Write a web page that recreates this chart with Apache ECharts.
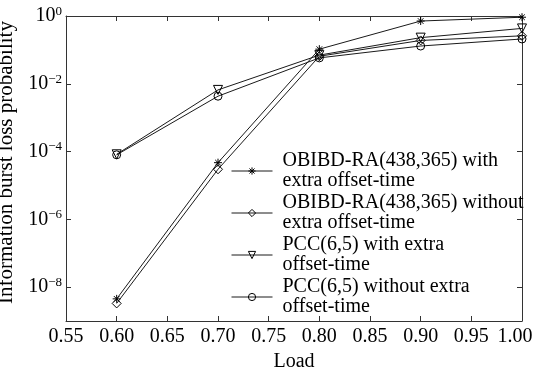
<!DOCTYPE html>
<html><head><meta charset="utf-8">
<script src="https://cdn.jsdelivr.net/npm/echarts@6/dist/echarts.min.js"></script>
<style>html,body{margin:0;padding:0;background:#fff}#c{width:534px;height:367px}</style>
</head><body><div id="c"></div>
<script>
const loads = [0.6, 0.7, 0.8, 0.9, 1.0];
const obibdWith = [4.5e-9, 4.7e-5, 0.105, 0.71, 0.92];
const obibdWithout = [3.3e-9, 3.0e-5, 0.065, 0.19, 0.26];
const pccWith = [8.3e-5, 6.6e-3, 0.07, 0.23, 0.43];
const pccWithout = [8.0e-5, 4.3e-3, 0.058, 0.13, 0.21];
const seriesNames = [
  'OBIBD-RA(438,365) with\nextra offset-time',
  'OBIBD-RA(438,365) without\nextra offset-time',
  'PCC(6,5) with extra\noffset-time',
  'PCC(6,5) without extra\noffset-time'
];
const yTickValues = [1e-8, 1e-6, 1e-4, 1e-2, 1];
const xTickLabels = ['0.55','0.60','0.65','0.70','0.75','0.80','0.85','0.90','0.95','1.00'];

const FONT = "'Liberation Serif','Times New Roman',serif";
const chart = echarts.init(document.getElementById('c'), null, {renderer: 'canvas'});
const pair = arr => loads.map((x, i) => [x, arr[i]]);
const star = 'path://M0,-1L0,1M-1,0L1,0M-0.7,-0.7L0.7,0.7M-0.7,0.7L0.7,-0.7';
const triDown = 'path://M0,0L2,0L1,1.75Z';
const mk = (name, data, symbol, size) => ({
  name, type: 'line', data: pair(data), symbol, symbolSize: size,
  lineStyle: {color: '#1a1a1a', width: 1},
  itemStyle: {color: 'none', borderColor: '#000', borderWidth: 1},
  emphasis: {disabled: true}, animation: false
});
function yLabel(v) {
  const e = Math.round(Math.log10(v));
  const s = String(e).replace('-', '−');
  return '{a|10}{b|' + s + '}';
}
function xLabel(v) {
  const i = Math.round((v - 0.55) / 0.05);
  const t = xTickLabels[i] || '';
  return i === xTickLabels.length - 1 ? '{r|' + t + '}' : t;
}
const axisBase = {
  axisLine: {lineStyle: {color: '#333', width: 1}},
  axisTick: {inside: true, length: 5, lineStyle: {color: '#333'}},
  splitLine: {show: false}
};
const xCommon = Object.assign({}, axisBase, {type: 'value', min: 0.55, max: 1.0, interval: 0.05});
const yCommon = Object.assign({}, axisBase, {type: 'log', logBase: 10, min: 1e-9, max: 1});
chart.setOption({
  animation: false,
  backgroundColor: '#fff',
  grid: {left: 66, right: 12, top: 16, bottom: 46, containLabel: false, outerBoundsMode: 'none'},
  xAxis: [
    Object.assign({}, xCommon, {
      position: 'bottom',
      name: 'Load', nameLocation: 'middle', nameGap: 28,
      nameTextStyle: {fontFamily: FONT, fontSize: 20, color: '#000'},
      axisLabel: {fontFamily: FONT, fontSize: 20, color: '#000', margin: 6, hideOverlap: false,
        showMinLabel: true, showMaxLabel: true, formatter: xLabel,
        rich: {r: {fontFamily: FONT, fontSize: 20, color: '#000', padding: [0, 14, 0, 0]}}}
    }),
    Object.assign({}, xCommon, {position: 'top', axisLabel: {show: false}})
  ],
  yAxis: [
    Object.assign({}, yCommon, {
      position: 'left',
      name: 'Information burst loss probability', nameLocation: 'middle', nameGap: 47,
      nameTextStyle: {fontFamily: FONT, fontSize: 21, color: '#000', padding: [0, 0, 0, 12]},
      axisTick: {inside: true, length: 5, lineStyle: {color: '#333'}, customValues: yTickValues},
      axisLabel: {customValues: yTickValues, margin: 4, formatter: yLabel,
        rich: {
          a: {fontFamily: FONT, fontSize: 20, color: '#000', lineHeight: 22},
          b: {fontFamily: FONT, fontSize: 13, color: '#000', verticalAlign: 'top', lineHeight: 22, padding: [0, 0, 8, 0]}
        }}
    }),
    Object.assign({}, yCommon, {
      position: 'right',
      axisTick: {inside: true, length: 5, lineStyle: {color: '#333'}, customValues: yTickValues},
      axisLabel: {show: false, customValues: yTickValues}
    })
  ],
  legend: {
    orient: 'vertical', left: 231, top: 151, padding: 0, itemGap: 2,
    itemWidth: 41, itemHeight: 9,
    lineStyle: {width: 1, color: '#1a1a1a'},
    itemStyle: {color: 'none', borderColor: '#000', borderWidth: 1},
    textStyle: {fontFamily: FONT, fontSize: 20, color: '#000', lineHeight: 20, padding: [0, 0, 0, 5]},
    data: seriesNames
  },
  series: [
    mk(seriesNames[0], obibdWith, star, 8),
    mk(seriesNames[1], obibdWithout, 'diamond', 9),
    mk(seriesNames[2], pccWith, triDown, 9),
    mk(seriesNames[3], pccWithout, 'circle', 8)
  ]
});
</script></body></html>
